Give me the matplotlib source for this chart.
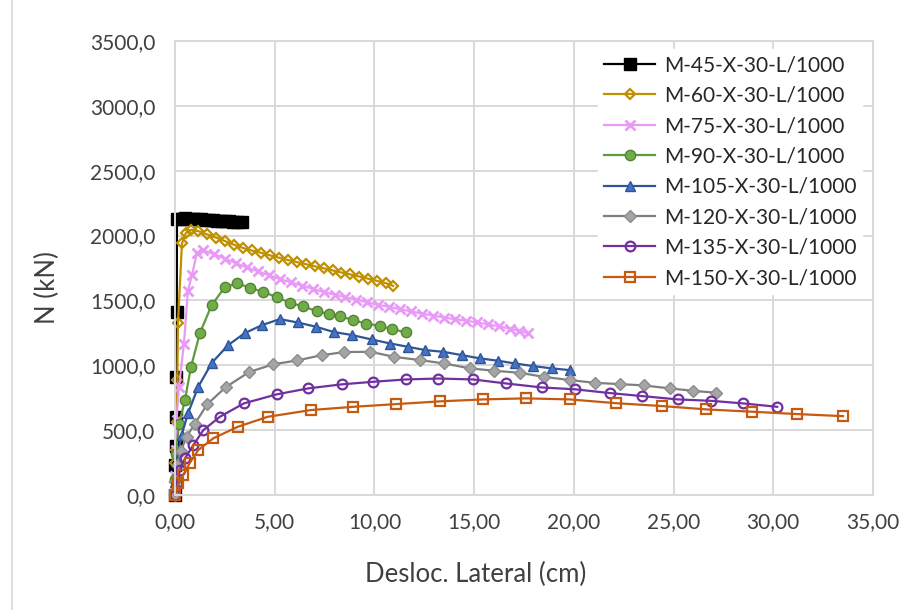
import matplotlib
matplotlib.use("Agg")
import matplotlib.pyplot as plt
from matplotlib.ticker import MultipleLocator, FuncFormatter
from matplotlib.lines import Line2D

# series data: lateral displacement (cm) vs N (kN)
labels = [
    "M-45-X-30-L/1000", "M-60-X-30-L/1000", "M-75-X-30-L/1000", "M-90-X-30-L/1000",
    "M-105-X-30-L/1000", "M-120-X-30-L/1000", "M-135-X-30-L/1000", "M-150-X-30-L/1000",
]

x_m45 = [0.0, 0.02, 0.04, 0.05, 0.07, 0.09, 0.10, 0.30, 0.50, 0.70, 0.90, 1.10, 1.30,
         1.50, 1.70, 1.90, 2.10, 2.30, 2.50, 2.70, 2.90, 3.10, 3.38]
n_m45 = [0, 230, 380, 600, 910, 1410, 2125, 2130, 2132, 2130, 2128, 2126, 2124,
         2122, 2120, 2118, 2116, 2114, 2112, 2110, 2108, 2106, 2104]

x_m60 = [0.0, 0.0, 0.02, 0.05, 0.08, 0.12, 0.15, 0.35, 0.55, 0.80, 1.15, 1.60, 2.05,
         2.50, 2.95, 3.40, 3.85, 4.30, 4.75, 5.20, 5.65, 6.10, 6.55, 7.00, 7.45, 7.90,
         8.35, 8.80, 9.25, 9.70, 10.15, 10.60, 10.94]
n_m60 = [0, 100, 246, 346, 562, 886, 1325, 1940, 2020, 2045, 2035, 2010, 1985,
         1958, 1930, 1905, 1885, 1868, 1848, 1830, 1812, 1796, 1780, 1764, 1748, 1732,
         1715, 1700, 1684, 1667, 1650, 1632, 1612]

x_m75 = [0.0, 0.02, 0.05, 0.08, 0.20, 0.45, 0.65, 0.85, 1.10, 1.40, 1.95, 2.50, 3.05,
         3.60, 4.15, 4.70, 5.25, 5.80, 6.35, 6.90, 7.45, 8.00, 8.55, 9.10, 9.65, 10.20,
         10.75, 11.30, 11.85, 12.40, 12.95, 13.50, 14.05, 14.60, 15.15, 15.70, 16.25,
         16.80, 17.25, 17.70]
n_m75 = [0, 150, 347, 577, 830, 1168, 1575, 1695, 1864, 1887, 1858, 1822, 1787,
         1755, 1725, 1695, 1665, 1640, 1615, 1590, 1565, 1545, 1525, 1505, 1485, 1465,
         1450, 1432, 1415, 1398, 1383, 1368, 1355, 1343, 1330, 1315, 1300,
         1283, 1265, 1248]

x_m90 = [0.0, 0.02, 0.05, 0.20, 0.50, 0.80, 1.25, 1.84, 2.50, 3.10, 3.76, 4.40, 5.10,
         5.76, 6.40, 7.10, 7.70, 8.30, 8.95, 9.60, 10.30, 10.90, 11.60]
n_m90 = [0, 120, 320, 545, 732, 986, 1248, 1464, 1602, 1633, 1598, 1566, 1527,
         1482, 1455, 1418, 1396, 1378, 1347, 1322, 1302, 1279, 1253]

x_m105 = [0.0, 0.02, 0.08, 0.33, 0.66, 1.16, 1.84, 2.66, 3.50, 4.37, 5.26, 6.15, 7.05,
          7.95, 8.88, 9.86, 10.80, 11.70, 12.55, 13.45, 14.40, 15.30, 16.20, 17.05,
          17.96, 18.90, 19.80]
n_m105 = [0, 100, 260, 462, 632, 832, 1017, 1155, 1248, 1310, 1356, 1330, 1298,
          1257, 1233, 1199, 1168, 1142, 1117, 1104, 1078, 1053, 1035, 1014,
          994, 976, 963]

x_m120 = [0.0, 0.04, 0.12, 0.30, 0.58, 1.00, 1.62, 2.55, 3.72, 4.93, 6.12, 7.35, 8.50,
          9.80, 11.00, 12.30, 13.50, 14.80, 16.00, 17.30, 18.50, 19.80, 21.05, 22.30,
          23.50, 24.80, 26.00, 27.15]
n_m120 = [0, 110, 230, 340, 450, 550, 700, 832, 948, 1008, 1037, 1078, 1102,
          1104, 1065, 1040, 1014, 976, 958, 942, 911, 886, 865, 855,
          845, 822, 803, 788]

x_m135 = [0.0, 0.08, 0.25, 0.50, 0.92, 1.42, 2.25, 3.45, 5.10, 6.68, 8.36, 9.94, 11.60,
          13.20, 14.95, 16.60, 18.40, 20.05, 21.80, 23.40, 25.20, 26.90, 28.50, 30.20]
n_m135 = [0, 90, 192, 282, 385, 500, 603, 706, 776, 822, 853, 873, 891,
          898, 891, 860, 829, 815, 786, 763, 737, 726, 706, 680]

x_m150 = [0.0, 0.17, 0.42, 0.75, 1.17, 1.92, 3.15, 4.65, 6.82, 8.94, 11.10, 13.30,
          15.45, 17.60, 19.80, 22.10, 24.40, 26.65, 28.95, 31.20, 33.50]
n_m150 = [0, 90, 154, 249, 347, 437, 526, 603, 655, 680, 701, 722,
          737, 745, 737, 708, 686, 660, 642, 624, 608]

plt.rcParams["font.family"] = ["Lato", "DejaVu Sans"]
text_color = "#404040"
grid_color = "#D9D9D9"

fig = plt.figure(figsize=(9.08, 6.10), dpi=100)
ax = fig.add_axes([0.1927, 0.1885, 0.7687, 0.7443])

# (x, y, line colour, marker, marker size, face colour, edge colour, edge width)
styles = [
    (x_m45, n_m45, "#000000", "s", 8.0, "#000000", "#000000", 1.0),
    (x_m60, n_m60, "#BF9000", "D", 5.2, "none", "#BF9000", 1.6),
    (x_m75, n_m75, "#E99AF7", "x", 7.2, "none", "#E99AF7", 2.0),
    (x_m90, n_m90, "#5E9A3E", "o", 7.4, "#70AD47", "#548235", 1.0),
    (x_m105, n_m105, "#2F5597", "^", 7.8, "#4472C4", "#2F5597", 1.0),
    (x_m120, n_m120, "#7F7F7F", "D", 6.2, "#A5A5A5", "#8C8C8C", 1.0),
    (x_m135, n_m135, "#7030A0", "o", 7.0, "none", "#7030A0", 1.6),
    (x_m150, n_m150, "#C55A11", "s", 6.6, "none", "#C55A11", 1.6),
]

for (xs, ys, lc, mk, ms, mfc, mec, mew), lab in zip(styles, labels):
    ax.plot(xs, ys, color=lc, lw=1.6, marker=mk, ms=ms, mfc=mfc, mec=mec,
            mew=mew, label=lab, clip_on=False)

ax.set_xlim(0, 35)
ax.set_ylim(0, 3500)
ax.xaxis.set_major_locator(MultipleLocator(5))
ax.yaxis.set_major_locator(MultipleLocator(500))
ax.xaxis.set_major_formatter(FuncFormatter(lambda v, p: f"{v:.2f}".replace(".", ",")))
ax.yaxis.set_major_formatter(FuncFormatter(lambda v, p: f"{v:.1f}".replace(".", ",")))
ax.grid(True, color=grid_color, lw=1.4)
ax.set_axisbelow(True)
for s in ax.spines.values():
    s.set_color(grid_color)
    s.set_linewidth(1.4)
ax.tick_params(length=0, labelsize=15, labelcolor=text_color)
ax.tick_params(axis="y", pad=14)
ax.tick_params(axis="x", pad=12)

ax.set_xlabel("Desloc. Lateral (cm)", fontsize=18.5, color=text_color, va="center")
ax.xaxis.set_label_coords(0.431, -0.176)
ax.set_ylabel("N (kN)", fontsize=18.5, color=text_color, va="center")
ax.yaxis.set_label_coords(-0.182, 0.456)

leg = ax.legend(loc="upper left", bbox_to_anchor=(598 / 908, 1 - 49 / 610),
                bbox_transform=fig.transFigure, fontsize=15, frameon=True,
                fancybox=False, edgecolor="white", framealpha=1.0,
                handlelength=2.45, handletextpad=0.4, labelspacing=0.5,
                borderpad=0.3, borderaxespad=0)
for t in leg.get_texts():
    t.set_color("#262626")

# light outer chart border on the left
fig.add_artist(Line2D([12 / 908, 12 / 908], [0, 1], color=grid_color, lw=1.2))

fig.savefig("out.png", dpi=100)
